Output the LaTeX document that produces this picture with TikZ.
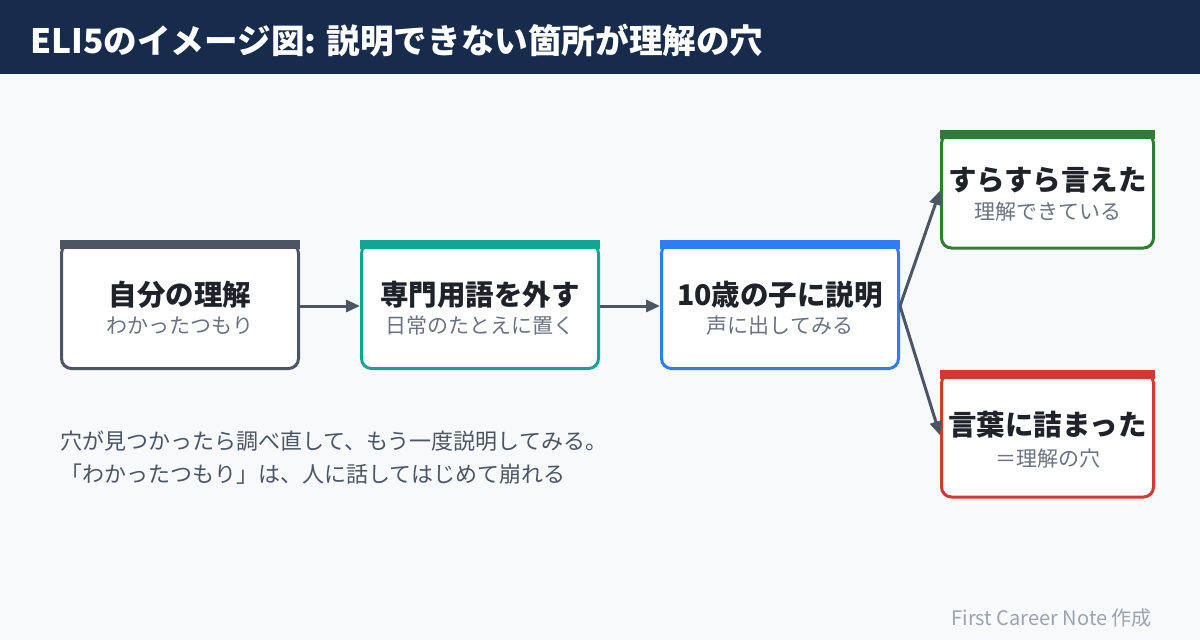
\documentclass[tikz,border=0pt]{standalone}
\usepackage{fontspec}
\setmainfont{Noto Sans CJK JP}
\usetikzlibrary{arrows.meta}
\definecolor{headbg}{HTML}{172B4D}
\definecolor{pagebg}{HTML}{F7F9FB}
\definecolor{cgray}{HTML}{4B5563}
\definecolor{cteal}{HTML}{12A594}
\definecolor{cblue}{HTML}{2F7DF6}
\definecolor{cgreen}{HTML}{2E7D32}
\definecolor{cred}{HTML}{D13A2E}
\definecolor{labtxt}{HTML}{1F2329}
\definecolor{subtxt}{HTML}{6B7280}
\definecolor{bodytxt}{HTML}{4B5563}
\definecolor{foottxt}{HTML}{9CA3AF}
\tikzset{
  card/.style={draw=#1, fill=white, line width=3pt, rounded corners=10pt, minimum width=237pt, minimum height=125pt, inner sep=0pt},
  labtext/.style={text=labtxt, font=\fontsize{28.5}{32}\selectfont\bfseries, inner sep=0pt},
  subtext/.style={text=subtxt, font=\fontsize{21}{25}\selectfont, inner sep=0pt},
  conn/.style={draw=cgray, line width=3pt, -{Triangle[length=14pt,width=12pt]}},
}
\newcommand{\cardbar}[2]{\fill[#2] ([shift={(0pt,2pt)}]#1.north west) rectangle ([shift={(0pt,-7pt)}]#1.north east);}
\begin{document}
\begin{tikzpicture}[x=1pt,y=-1pt]
\useasboundingbox (0,0) rectangle (1200,640);
\fill[pagebg] (0,0) rectangle (1200,640);
\fill[headbg] (0,0) rectangle (1200,74);
\node[anchor=west, text=white, inner sep=0pt, font=\fontsize{33.6}{38}\selectfont\bfseries] (title) at (30,40) {ELI5のイメージ図: 説明できない箇所が理解の穴};

% cards
\node[card=cgray] (b1) at (180,306) {};
\cardbar{b1}{cgray}
\node[card=cteal] (b2) at (480,306) {};
\cardbar{b2}{cteal}
\node[card=cblue] (b3) at (780,306) {};
\cardbar{b3}{cblue}
\node[card=cgreen, minimum width=212pt, minimum height=114.5pt] (b4) at (1047.5,190.75) {};
\cardbar{b4}{cgreen}
\node[card=cred, minimum width=212pt, minimum height=123.5pt] (b5) at (1047.5,435.25) {};
\cardbar{b5}{cred}

\node[labtext] (b1t) at ([yshift=11pt]b1.center) {自分の理解};
\node[subtext] (b1s) at ([yshift=-20pt]b1.center) {わかったつもり};
\node[labtext] (b2t) at ([yshift=11pt]b2.center) {専門用語を外す};
\node[subtext] (b2s) at ([yshift=-20pt]b2.center) {日常のたとえに置く};
\node[labtext] (b3t) at ([yshift=11pt]b3.center) {10歳の子に説明};
\node[subtext] (b3s) at ([yshift=-20pt]b3.center) {声に出してみる};
\node[labtext] (b4t) at ([yshift=11pt]b4.center) {すらすら言えた};
\node[subtext] (b4s) at ([yshift=-21pt]b4.center) {理解できている};
\node[labtext] (b5t) at ([yshift=11pt]b5.center) {言葉に詰まった};
\node[subtext] (b5s) at ([yshift=-23pt]b5.center) {＝理解の穴};

% connectors
\draw[conn] (b1.east) -- (b2.west);
\draw[conn] (b2.east) -- (b3.west);
\draw[conn] (b3.east) -- (b4.west);
\draw[conn] (b3.east) -- (b5.west);

\node[anchor=west, align=left, text=bodytxt, inner sep=0pt, font=\fontsize{22}{33}\selectfont] (note) at (60,458) {穴が見つかったら調べ直して、もう一度説明してみる。\\「わかったつもり」は、人に話してはじめて崩れる};

\node[anchor=east, text=foottxt, inner sep=0pt, font=\fontsize{20}{24}\selectfont] (foot) at (1152,618) {First Career Note 作成};
\end{tikzpicture}
\end{document}
